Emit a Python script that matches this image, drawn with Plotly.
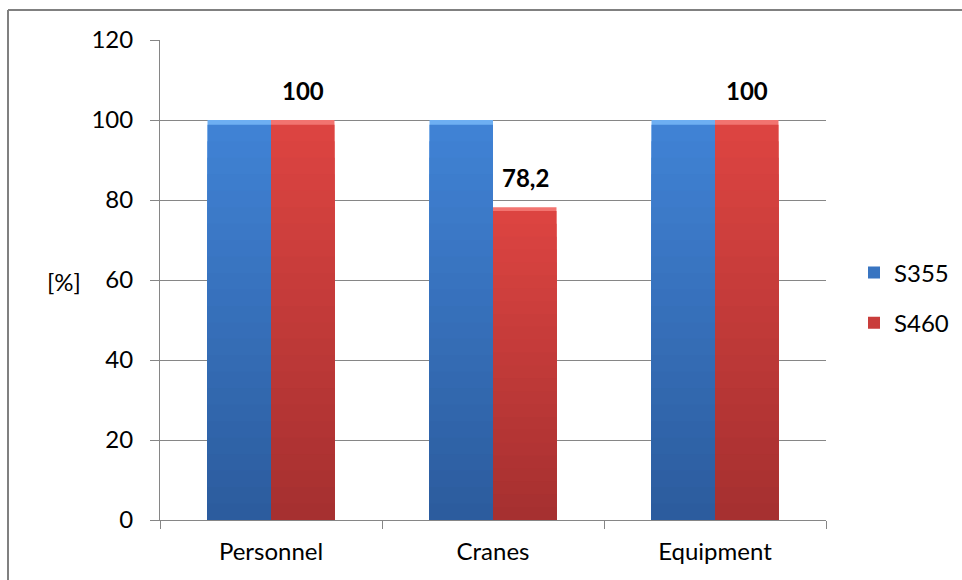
import plotly.graph_objects as go

# Chart data
categories = ["Personnel", "Cranes", "Equipment"]
series_names = ["S355", "S460"]
s355_values = [100, 100, 100]
s460_values = [100, 78.2, 100]
labelled_series = "S460"

# Figure geometry (pixels)
W, H = 962, 580
L, R, T, B = 160, 136, 40, 60
PW, PH = W - L - R, H - T - B

FONT = "Lato, 'Open Sans', sans-serif"
FS = 24
GRID = "#868686"


def px_x(p):
    return (p - L) / PW


def px_y(p):
    return (H - B - p) / PH


def mix(c1, c2, t):
    return "rgb({},{},{})".format(*[round(a + (b - a) * t) for a, b in zip(c1, c2)])


# Colour ramps: highlight strip, top tone, bottom tone
palettes = {
    "S355": dict(hi=(110, 175, 242), top=(64, 130, 212), bot=(44, 92, 158)),
    "S460": dict(hi=(242, 116, 112), top=(220, 68, 65), bot=(166, 48, 48)),
}
values = {"S355": s355_values, "S460": s460_values}

fig = go.Figure()

N = 24
for name in series_names:
    pal = palettes[name]
    vals = values[name]
    # Full-height highlight layer (bevelled top edge)
    fig.add_trace(go.Bar(
        x=categories, y=vals, name=name, offsetgroup=name, legendgroup=name,
        marker=dict(color=mix(pal["hi"], pal["hi"], 0), line=dict(width=0)),
        showlegend=False, hoverinfo="skip",
    ))
    # Vertical gradient: progressively shorter, darker layers
    for i in range(N):
        frac = 0.988 * (1 - i / N)
        t = i / (N - 1)
        col = mix(pal["top"], pal["bot"], t)
        fig.add_trace(go.Bar(
            x=categories, y=[v * frac for v in vals], name=name,
            offsetgroup=name, legendgroup=name,
            marker=dict(color=col, line=dict(width=0)),
            showlegend=(i == N // 3), hoverinfo="skip",
        ))

# Value labels above the labelled series
for cat, v in zip(categories, values[labelled_series]):
    txt = f"{v:g}".replace(".", ",")
    fig.add_annotation(
        x=cat, y=v, text=f"<b>{txt}</b>", showarrow=False,
        xshift=32, yshift=13, yanchor="bottom",
        font=dict(family=FONT, size=FS, color="#000000"),
    )

# Unit label on the value axis
fig.add_annotation(
    xref="paper", yref="paper", x=px_x(64), y=px_y(281),
    text="[%]", showarrow=False, xanchor="center", yanchor="middle",
    font=dict(family=FONT, size=FS, color="#000000"),
)

# Chart frame (top and left edges)
frame = dict(type="line", xref="paper", yref="paper",
             line=dict(color="#808080", width=2))
fig.add_shape(x0=px_x(8), x1=px_x(W + 2), y0=px_y(10), y1=px_y(10), **frame)
fig.add_shape(x0=px_x(8), x1=px_x(8), y0=px_y(10), y1=px_y(H + 2), **frame)

fig.update_layout(
    width=W, height=H,
    margin=dict(l=L, r=R, t=T, b=B, autoexpand=False),
    paper_bgcolor="white", plot_bgcolor="white",
    barmode="group", bargap=0.428, bargroupgap=0,
    font=dict(family=FONT, size=FS, color="#000000"),
    showlegend=True,
    legend=dict(
        x=px_x(854), y=px_y(298), xanchor="left", yanchor="middle",
        traceorder="grouped", tracegroupgap=16,
        font=dict(family=FONT, size=FS, color="#000000"),
        itemwidth=30, bgcolor="rgba(0,0,0,0)",
    ),
)

fig.update_xaxes(
    type="category", showline=True, linecolor=GRID, linewidth=1,
    ticks="outside", tickson="boundaries", ticklen=8, tickcolor=GRID,
    showgrid=False, ticklabelstandoff=10,
)
fig.update_yaxes(
    range=[0, 120], dtick=20, showgrid=True, gridcolor=GRID, gridwidth=1,
    showline=True, linecolor=GRID, linewidth=1,
    ticks="outside", ticklen=9, tickcolor=GRID, ticklabelstandoff=12,
    zeroline=False,
)

fig.write_html("out.html")
